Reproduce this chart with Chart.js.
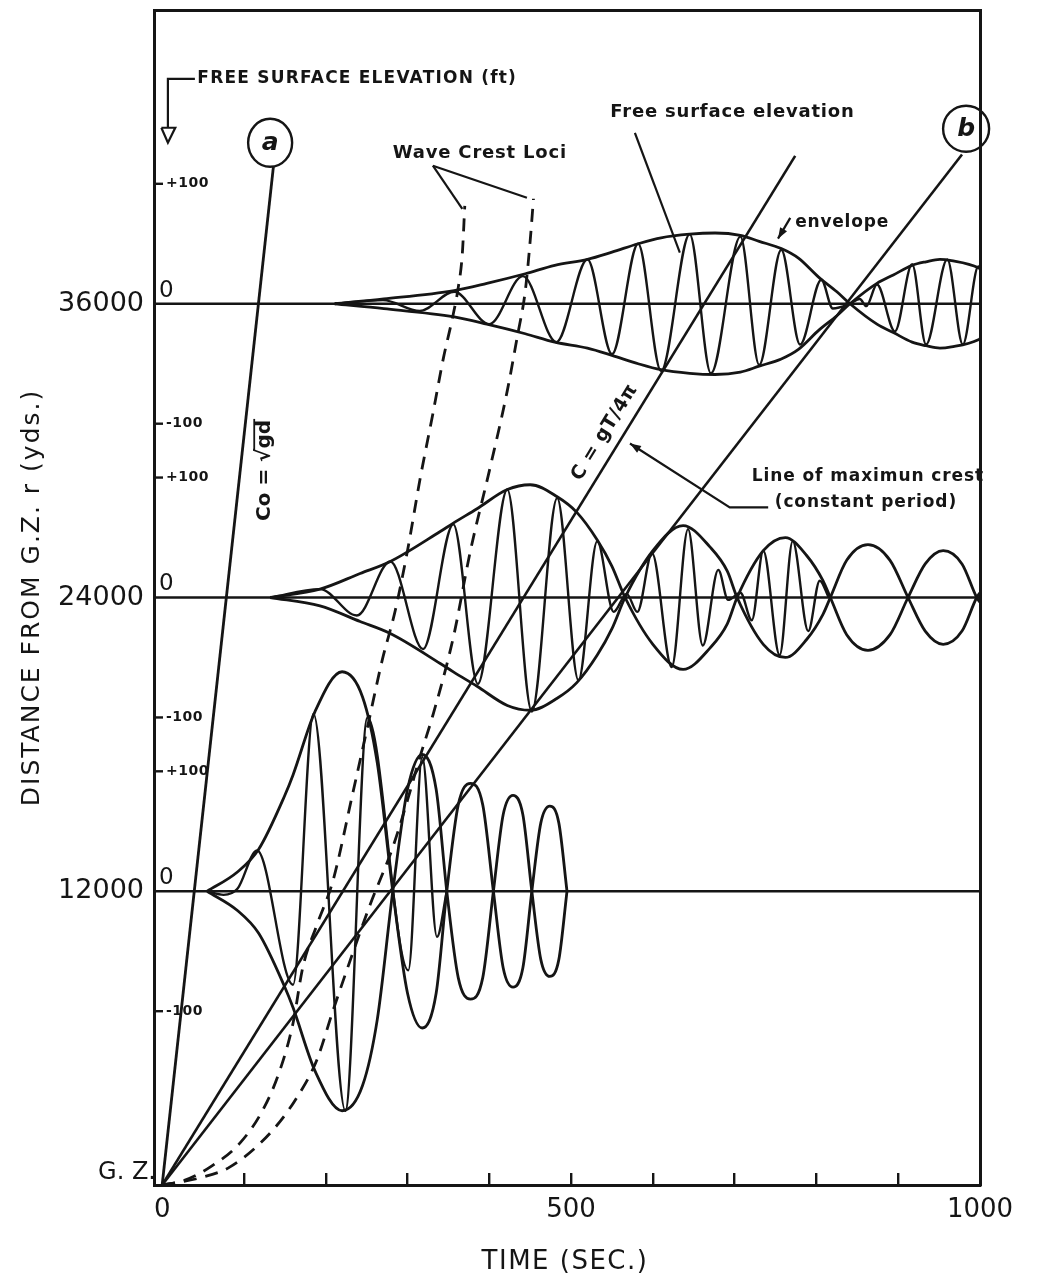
<!DOCTYPE html>
<html>
<head>
<meta charset="utf-8">
<script src="https://cdn.jsdelivr.net/npm/chart.js@4/dist/chart.umd.min.js"></script>
<style>
html,body{margin:0;padding:0;background:#ffffff;}
canvas{display:block;}
</style>
</head>
<body>
<canvas id="chart" width="1037" height="1286"></canvas>
<script>
// ================= DATA =================
const TIME_MIN = -10, TIME_MAX = 1000;          // seconds
const DIST_MIN = 0, DIST_MAX = 48000;           // yards from G.Z.
const X_TICKS = [0,100,200,300,400,500,600,700,800,900,1000];
const X_TICK_LABELS = ['0','','','','','500','','','','','1000'];
const Y_TICKS = [0,12000,24000,36000];
const Y_TICK_LABELS = ['','12000','24000','36000'];
const ORIGIN_LABEL = 'G. Z.';
const X_TITLE = 'TIME (SEC.)';
const Y_TITLE = 'DISTANCE FROM G.Z. r (yds.)';
const STATION_DIST = [36000,24000,12000];       // base line of each record (yds)
const ELEV_TICKS = [100,-100];                  // free surface elevation ticks (ft)
const ELEV_TICK_LABELS = ['+100','-100'];
const ELEV_ZERO_LABEL = '0';
const YDS_PER_FT = 49;                          // record scale: 100 ft of elevation = 4900 yds

// record at r = 36000 yds : time (s) / elevation (ft)
const rec36Time = [211,270,315,357,400,441,482,520,550,582,610,645,671,707,730,757,780,806,820,841,853,861,874,896,917,934,960,979,998,1000];
const rec36Elev = [0,3,-6,10,-17,23,-32,37,-42,50,-56,58,-58,56,-51,45,-34,20,-4,0,4,-2,16,-23,33,-34,37,-34,31,30];
const env36Time = [211,271,357,397,444,480,520,550,582,610,645,676,707,730,757,778,803,825,841,874,894,917,934,951,965,998,1000];
const env36Amp  = [0,4,11,17,25,32,37,43,50,55,58,59,57,52,46,38,22,10,0,-17,-24,-32,-35,-37,-36,-30,-29];

// record at r = 24000 yds
const rec24Time = [132,193,238,279,319,356,386,422,452,483,509,532,552,568,581,599,623,643,661,680,692,707,721,735,755,771,790,804,815];
const rec24Elev = [0,7,-15,30,-43,61,-72,90,-95,83,-69,47,-12,3,-12,37,-58,57,-40,23,-2,4,-19,39,-48,47,-28,14,0];
const env24Time = [132,193,242,279,340,356,385,422,450,483,507,532,550,566,600,637,670,691,703,735,762,788,808,817,837,863,890,912,933,955,978,996,1000];
const env24Amp  = [0,7,20,30,55,62,74,90,94,84,71,48,26,0,-39,-60,-42,-22,0,39,50,35,14,0,-31,-44,-31,0,28,39,28,0,-4];

// record at r = 12000 yds
const rec12Time = [55,75,92,116,160,185,224,251,301,318,336,348];
const rec12Elev = [0,-3,2,34,-78,148,-183,145,-66,112,-38,0];
const env12Time = [55,92,118,150,160,187,220,245,263,282,300,318,335,348,362,377,392,405,417,429,441,452,463,474,485,495];
const env12Amp  = [0,16,35,80,97,150,183,162,107,0,-85,-114,-85,0,72,90,72,0,-64,-80,-64,0,57,71,57,0];

// straight lines from G.Z. : time (s) / distance (yds)
const lineA_T = [0,136],  lineA_D = [0,41600];   // Co = sqrt(gd)  -> (a)
const lineC_T = [0,774],  lineC_D = [0,42040];   // C = gT/4pi (line of maximum crest)
const lineB_T = [0,978],  lineB_D = [0,42100];   // -> (b)

// wave crest loci (dashed)
const locus1_T = [0,28,59,95,123,144,160,172,189,209,233,251,269,285,300,315,331,344,355,362,367,370];
const locus1_D = [0,200,740,1710,3060,4690,6610,8900,10610,12450,16000,18700,21430,23470,25920,28780,31510,33800,35430,36660,38040,40000];
const locus2_T = [0,46,83,132,165,189,209,233,254,282,300,315,331,356,377,401,422,434,444,450,454];
const locus2_D = [0,290,740,2120,3590,5100,7140,9470,11430,13800,15720,17470,19190,22370,25920,29310,32450,34620,36530,38580,40290];

// ================= STYLE =================
const INK = '#151515';
const FONT = '"DejaVu Sans", "Liberation Sans", sans-serif';

// leader lines of the annotations (time s / distance yds)
const leaders = [
  {t:[331,367], d:[41640,39880]},
  {t:[331,446], d:[41640,40330]},
  {t:[578,633], d:[42980,38090]},
  {t:[768,753], d:[39510,38660], arrow:true},
  {t:[741,694,572], d:[27680,27680,30290], arrow:true},
  {t:[40,7,7], d:[45190,45190,43190]},
  {t:[-1,16,7,-1], d:[43190,43190,42580,43190]}
];
const notes = [
  {s:'FREE SURFACE ELEVATION (ft)', t:43, d:45190, font:'bold 17px', sp:1.2},
  {s:'Wave Crest Loci', t:282, d:42130, font:'bold 18px', sp:0.8},
  {s:'Free surface elevation', t:548, d:43800, font:'bold 18px', sp:0.8},
  {s:'envelope', t:774, d:39310, font:'bold 17px', sp:0.8},
  {s:'Line of maximun crest', t:721, d:28940, font:'bold 17px', sp:0.9},
  {s:'(constant period)', t:749, d:27880, font:'bold 17px', sp:0.9}
];
const circles = [
  {s:'a', t:132, d:42575, rx:22, ry:24},
  {s:'b', t:983, d:43150, rx:23, ry:23}
];

// ================= BUILD =================
const pairs = (ts, ds) => ts.map((t,i)=>({x:t, y:ds[i]}));
const rec = (ts, es, base, sign) => ts.map((t,i)=>({x:t, y:base + sign*es[i]*YDS_PER_FT}));

const datasets = [];
function add(data, extra){
  datasets.push(Object.assign({data, borderColor:INK, borderWidth:2.6, pointRadius:0,
    showLine:true, fill:false, tension:0}, extra||{}));
}
STATION_DIST.forEach(b => add([{x:TIME_MIN,y:b},{x:TIME_MAX,y:b}], {borderWidth:2.4}));
const records = [
  {base:STATION_DIST[0], t:rec36Time, e:rec36Elev, et:env36Time, ea:env36Amp},
  {base:STATION_DIST[1], t:rec24Time, e:rec24Elev, et:env24Time, ea:env24Amp},
  {base:STATION_DIST[2], t:rec12Time, e:rec12Elev, et:env12Time, ea:env12Amp}
];
records.forEach(r=>{
  add(rec(r.t, r.e, r.base, 1), {cubicInterpolationMode:'monotone', borderWidth:2.4});
  add(rec(r.et, r.ea, r.base, 1), {cubicInterpolationMode:'monotone', borderWidth:2.8});
  add(rec(r.et, r.ea, r.base, -1), {cubicInterpolationMode:'monotone', borderWidth:2.8});
});
add(pairs(lineA_T, lineA_D), {borderWidth:2.8});
add(pairs(lineC_T, lineC_D), {borderWidth:2.6});
add(pairs(lineB_T, lineB_D), {borderWidth:2.6});
add(pairs(locus1_T, locus1_D), {cubicInterpolationMode:'monotone', borderDash:[13,9], borderWidth:2.8});
add(pairs(locus2_T, locus2_D), {cubicInterpolationMode:'monotone', borderDash:[13,9], borderWidth:2.8});
leaders.forEach(l => add(pairs(l.t, l.d), {borderWidth:2.2, arrowEnd:!!l.arrow}));

function drawText(ctx, s, x, y, font, align, sp, rot){
  ctx.save();
  ctx.translate(x, y);
  if (rot) ctx.rotate(rot);
  ctx.font = font + ' ' + FONT;
  ctx.textAlign = align || 'left';
  ctx.textBaseline = 'middle';
  try { ctx.letterSpacing = (sp||0) + 'px'; } catch(e) {}
  ctx.fillText(s, 0, 0);
  ctx.restore();
}

const annotPlugin = {
  id:'annot',
  afterDatasetsDraw(chart){
    const ctx = chart.ctx, xs = chart.scales.x, ys = chart.scales.y;
    const X = t => xs.getPixelForValue(t), Y = d => ys.getPixelForValue(d);
    ctx.save();
    ctx.fillStyle = INK; ctx.strokeStyle = INK;
    // arrow heads on leaders
    chart.data.datasets.forEach((ds,i)=>{
      if (!ds.arrowEnd) return;
      const pts = chart.getDatasetMeta(i).data;
      const p1 = pts[pts.length-2], p2 = pts[pts.length-1];
      const a = Math.atan2(p2.y-p1.y, p2.x-p1.x), L = 11, W = 4;
      ctx.beginPath();
      ctx.moveTo(p2.x, p2.y);
      ctx.lineTo(p2.x - L*Math.cos(a) + W*Math.sin(a), p2.y - L*Math.sin(a) - W*Math.cos(a));
      ctx.lineTo(p2.x - L*Math.cos(a) - W*Math.sin(a), p2.y - L*Math.sin(a) + W*Math.cos(a));
      ctx.closePath(); ctx.fill();
    });
    // notes
    notes.forEach(n => drawText(ctx, n.s, X(n.t), Y(n.d), n.font, 'left', n.sp));
    // circled letters
    circles.forEach(c=>{
      ctx.lineWidth = 2.4;
      ctx.beginPath(); ctx.ellipse(X(c.t), Y(c.d), c.rx, c.ry, 0, 0, Math.PI*2); ctx.stroke();
      drawText(ctx, c.s, X(c.t), Y(c.d)+1, 'italic bold 25px', 'center', 0);
    });
    // Co = sqrt(gd) (vertical)
    {
      const cx = X(126), cy = Y(29190);
      ctx.save(); ctx.translate(cx, cy); ctx.rotate(-Math.PI/2);
      ctx.font = 'bold 20px ' + FONT; ctx.textBaseline = 'middle'; ctx.textAlign = 'left';
      const s1 = 'Co = \u221A', s2 = 'gd';
      const w1 = ctx.measureText(s1).width, w2 = ctx.measureText(s2).width;
      const x0 = -(w1+w2)/2;
      ctx.fillText(s1, x0, 0); ctx.fillText(s2, x0+w1, 0);
      ctx.lineWidth = 1.8; ctx.beginPath(); ctx.moveTo(x0+w1-2, -11); ctx.lineTo(x0+w1+w2+1, -11); ctx.stroke();
      ctx.restore();
    }
    // C = gT/4pi along its line
    {
      const ang = Math.atan2(Y(lineC_D[1])-Y(lineC_D[0]), X(lineC_T[1])-X(lineC_T[0]));
      drawText(ctx, 'C = gT/4\u03C0', X(541), Y(30740), 'bold 19px', 'center', 0.5, ang);
    }
    // inner free-surface-elevation scales
    STATION_DIST.forEach(b=>{
      const left = xs.left;
      drawText(ctx, ELEV_ZERO_LABEL, left+5, Y(b)-13, '23px', 'left', 0);
      ELEV_TICKS.forEach((e,k)=>{
        const y = Y(b + e*YDS_PER_FT);
        ctx.lineWidth = 2.4; ctx.beginPath(); ctx.moveTo(left, y); ctx.lineTo(left+9, y); ctx.stroke();
        drawText(ctx, ELEV_TICK_LABELS[k], left+12, y, 'bold 14px', 'left', 0.5);
      });
    });
    // axis titles and origin label
    drawText(ctx, Y_TITLE, 32, (ys.top+ys.bottom)/2, '25px', 'center', 2, -Math.PI/2);
    drawText(ctx, X_TITLE, 565, 1262, '26px', 'center', 1.5);
    drawText(ctx, ORIGIN_LABEL, xs.left+2, Y(0)-12, '24px', 'right', 0);
    ctx.restore();
  }
};

function noPad(s){ s.paddingTop = 0; s.paddingBottom = 0; s.paddingLeft = 0; s.paddingRight = 0; }

new Chart(document.getElementById('chart'), {
  type:'scatter',
  data:{datasets},
  options:{
    responsive:false, animation:false, devicePixelRatio:1,
    layout:{padding:0},
    events:[],
    plugins:{legend:{display:false}, tooltip:{enabled:false}, title:{display:false}},
    scales:{
      x:{
        type:'linear', position:'bottom', min:TIME_MIN, max:TIME_MAX,
        afterBuildTicks(s){ s.ticks = X_TICKS.map(v=>({value:v})); },
        afterFit(s){ s.height = 101; noPad(s); },
        ticks:{autoSkip:false, maxRotation:0, padding:22, color:INK,
          font:{family:FONT, size:26},
          callback(v){ const i = X_TICKS.indexOf(v); return i>=0 ? X_TICK_LABELS[i] : ''; }},
        grid:{display:true, drawOnChartArea:false, drawTicks:true, tickLength:-12, lineWidth:2.4,
          color(c){ return (c.tick && (c.tick.value===0 || c.tick.value===1000)) ? 'rgba(0,0,0,0)' : INK; }},
        border:{display:true, color:INK, width:3}
      },
      xTop:{
        type:'linear', position:'top', min:TIME_MIN, max:TIME_MAX, display:true,
        afterFit(s){ s.height = 10; noPad(s); },
        ticks:{display:false}, grid:{display:false},
        border:{display:true, color:INK, width:3}
      },
      y:{
        type:'linear', position:'left', min:DIST_MIN, max:DIST_MAX,
        afterBuildTicks(s){ s.ticks = Y_TICKS.map(v=>({value:v})); },
        afterFit(s){ s.width = 154; noPad(s); },
        ticks:{autoSkip:false, padding:10, color:INK, font:{family:FONT, size:27},
          callback(v){ const i = Y_TICKS.indexOf(v); return i>=0 ? Y_TICK_LABELS[i] : ''; }},
        grid:{display:false, drawTicks:false},
        border:{display:true, color:INK, width:3}
      },
      yRight:{
        type:'linear', position:'right', min:DIST_MIN, max:DIST_MAX, display:true,
        afterFit(s){ s.width = 57; noPad(s); },
        ticks:{display:false}, grid:{display:false},
        border:{display:true, color:INK, width:3}
      }
    }
  },
  plugins:[annotPlugin]
});
</script>
</body>
</html>
